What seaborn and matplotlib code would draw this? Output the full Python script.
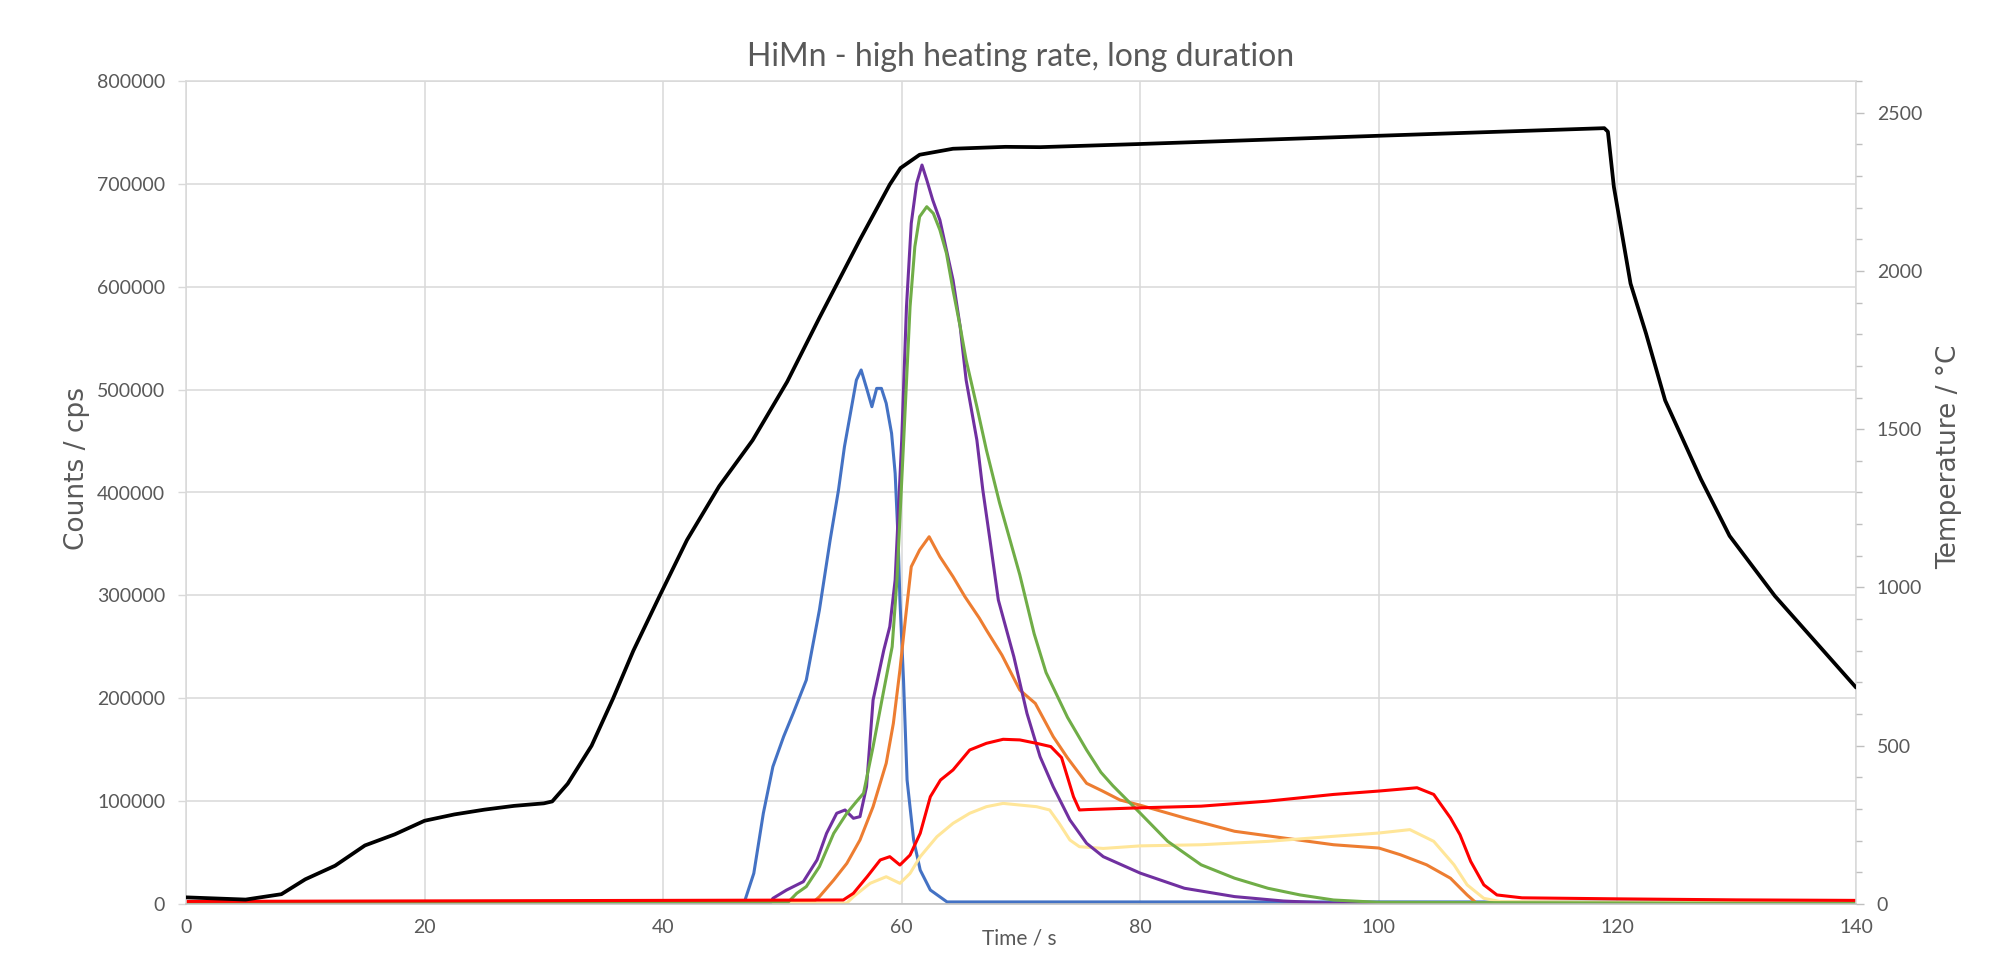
import numpy as np
import pandas as pd
import seaborn as sns
from matplotlib import pyplot as plt
from matplotlib.ticker import MultipleLocator, FuncFormatter

# Counts / cps series (time in s)
blue_t = [0, 46.8, 47.6, 48.4, 49.2, 50.1, 50.9, 52.0, 53.1, 54.0, 54.7, 55.2, 55.7, 56.2, 56.6, 57.1,
          57.5, 57.9, 58.3, 58.7, 59.15, 59.45, 59.7, 59.85, 60.15, 60.45, 61.0, 61.55, 62.4, 63.8, 140]
blue_c = [1500, 1500, 29800, 88200, 133500, 162700, 185300, 217700, 285800, 353800, 402400, 444600,
          476900, 509300, 519100, 499600, 483400, 501200, 501200, 486700, 457500, 418600, 353800,
          295500, 217700, 120500, 62200, 33000, 13600, 2000, 2000]

purple_t = [0, 49.0, 49.2, 50.35, 51.75, 52.9, 53.7, 54.55, 55.25, 55.95, 56.5, 57.05, 57.6, 58.5, 59.0,
            59.45, 60.0, 60.4, 60.8, 61.25, 61.7, 62.1, 62.6, 63.2, 63.75, 64.3, 64.9, 65.4, 66.3, 66.8,
            67.4, 68.1, 69.4, 70.5, 71.6, 72.7, 74.1, 75.5, 76.9, 80.0, 83.7, 87.9, 92.0, 96.2, 100, 140]
purple_c = [1000, 1000, 5500, 13600, 21700, 42800, 68700, 88200, 91400, 83300, 84900, 114000, 198300,
            246900, 269600, 315000, 451000, 580600, 661600, 700500, 718300, 703800, 684300, 664900,
            635700, 606600, 561200, 509300, 451000, 402400, 353800, 295500, 240400, 185300, 143200,
            114000, 81700, 59000, 46000, 30000, 15300, 7200, 2900, 700, 0, 0]

green_t = [0, 50.5, 51.2, 52.0, 53.1, 54.3, 55.4, 56.2, 56.8, 57.6, 58.5, 59.2, 59.6, 60.3, 60.7, 61.1,
           61.5, 62.1, 62.65, 63.2, 63.75, 64.3, 64.9, 65.4, 66.3, 67.1, 68.2, 69.9, 71.1, 72.1, 73.9,
           75.5, 76.7, 77.7, 80.0, 82.3, 85.1, 87.9, 90.7, 93.4, 96.2, 100, 140]
green_c = [1000, 2000, 10400, 16900, 36300, 68700, 88200, 99500, 107600, 152900, 208000, 250100,
           315000, 483400, 580600, 638900, 668100, 677800, 671300, 655200, 632500, 596800, 561200,
           528800, 483400, 441300, 390000, 320000, 262800, 225000, 181400, 149700, 128000, 115000,
           88200, 60900, 38100, 25100, 15300, 8800, 3900, 1600, 500]

orange_t = [0, 52.6, 53.1, 54.3, 55.4, 56.5, 57.6, 58.7, 59.3, 59.85, 60.3, 60.8, 61.5, 62.3, 63.2, 64.3,
            65.3, 66.5, 67.1, 68.4, 69.9, 71.2, 72.7, 73.9, 75.5, 76.8, 78.3, 80.0, 83.7, 87.9, 92.0,
            96.2, 100, 101.8, 104.0, 106.0, 107.4, 108.2, 140]
orange_c = [1000, 2000, 7100, 23300, 39500, 62200, 94600, 136800, 175600, 227500, 276100, 327900,
            344100, 357000, 337600, 318200, 298700, 278000, 266300, 242000, 208000, 195000, 162700,
            142000, 117300, 110000, 101100, 96000, 83700, 70700, 64200, 57600, 54400, 47900, 38100,
            25100, 8800, 700, 500]

yellow_t = [0, 55.4, 55.95, 57.35, 58.7, 59.85, 60.7, 61.55, 62.95, 64.3, 65.7, 67.1, 68.5, 69.9, 71.3,
            72.4, 73.2, 74.1, 74.9, 76.9, 80, 85.1, 90.7, 96.2, 100, 102.6, 104.6, 106.3, 107.4, 108.8,
            110.2, 140]
yellow_c = [500, 1000, 7100, 20100, 26500, 20100, 29800, 46000, 65400, 78400, 88200, 94600, 97800,
            96200, 94600, 91400, 78400, 62200, 55700, 54000, 56500, 57600, 60900, 65800, 69000, 72300,
            60900, 38100, 18600, 5500, 2300, 1000]

red_t = [0, 55.1, 55.95, 57.1, 58.2, 59.0, 59.85, 60.7, 61.55, 62.4, 63.25, 64.3, 65.7, 67.1, 68.5, 69.9,
         71.3, 72.5, 73.4, 74.4, 74.9, 75.6, 80, 85.1, 90.7, 96.2, 100, 103.2, 104.6, 106.0, 106.8, 107.7,
         108.8, 109.9, 112, 120, 130, 140]
red_c = [2500, 3900, 10400, 26500, 42800, 46000, 37900, 47600, 68700, 104300, 120500, 130300, 149700,
         156200, 160100, 159500, 156200, 153000, 142300, 104300, 91400, 91800, 93500, 95100, 100000,
         106500, 109800, 113000, 106500, 83700, 67400, 41400, 18600, 8800, 6000, 5000, 4000, 3500]

# Temperature / °C (right axis)
temp_t = [0, 5, 8, 10, 12.5, 15, 17.5, 20, 22.5, 25, 27.5, 30, 30.7, 32, 34, 35.8, 37.5, 39.7, 42, 44.7,
          47.5, 50.4, 53.1, 56.5, 59.0, 59.9, 61.5, 64.3, 68.7, 71.6, 80, 100, 118.9, 119.2, 119.7,
          121.1, 122.4, 124, 127, 129.4, 133.2, 136.4, 140]
temp_v = [21, 14, 31, 78, 121, 185, 220, 263, 283, 298, 310, 318, 324, 380, 500, 649, 800, 973, 1150,
          1320, 1465, 1650, 1852, 2099, 2273, 2325, 2367, 2386, 2392, 2391, 2401, 2427, 2451, 2440, 2266,
          1960, 1802, 1591, 1342, 1163, 973, 837, 684]

series = [
    (blue_t, blue_c, '#4472C4'),
    (orange_t, orange_c, '#ED7D31'),
    (yellow_t, yellow_c, '#FFE699'),
    (purple_t, purple_c, '#7030A0'),
    (green_t, green_c, '#70AD47'),
    (red_t, red_c, '#FF0000'),
]

sns.set_style('white')
plt.rcParams['font.family'] = ['Lato', 'DejaVu Sans']
text_col = '#595959'
grid_col = '#D9D9D9'

fig = plt.figure(figsize=(20.11, 9.55), dpi=100)
ax = fig.add_axes([186 / 2011, 51 / 955, 1670 / 2011, 823 / 955])

for t, c, col in series:
    sns.lineplot(x=t, y=c, ax=ax, color=col, linewidth=2.2, sort=False, estimator=None)

ax.set_xlim(0, 140)
ax.set_ylim(0, 800000)
ax.xaxis.set_major_locator(MultipleLocator(20))
ax.yaxis.set_major_locator(MultipleLocator(100000))
ax.yaxis.set_major_formatter(FuncFormatter(lambda v, p: f'{v:.0f}'))
ax.grid(True, color=grid_col, linewidth=1.1)
ax.set_axisbelow(True)
ax.tick_params(axis='both', which='major', length=6, width=1, color=grid_col,
               labelsize=14, labelcolor=text_col, direction='out')
ax.tick_params(axis='y', pad=9)
ax.tick_params(axis='x', pad=5)
for s in ax.spines.values():
    s.set_color(grid_col)
    s.set_linewidth(1.1)
ax.spines['bottom'].set_color('#BFBFBF')

ax.set_ylabel('Counts / cps', family='DejaVu Sans', fontsize=19, color=text_col)
ax.yaxis.set_label_coords(-0.0575, 0.5286)
ax.set_xlabel('Time / s', fontsize=15, color=text_col)
ax.xaxis.set_label_coords(0.4992, -0.0292)

ax2 = ax.twinx()
sns.lineplot(x=temp_t, y=temp_v, ax=ax2, color='black', linewidth=2.7, sort=False, estimator=None)
ax2.set_ylim(0, 2600)
ax2.yaxis.set_major_locator(MultipleLocator(500))
ax2.yaxis.set_minor_locator(MultipleLocator(100))
ax2.tick_params(axis='y', which='major', length=6, width=1, color='#BFBFBF',
                labelsize=14, labelcolor=text_col, pad=9)
ax2.tick_params(axis='y', which='minor', length=4, width=1, color='#BFBFBF')
for s in ax2.spines.values():
    s.set_visible(False)
ax2.set_ylabel('Temperature / °C', family='DejaVu Sans', fontsize=19, color=text_col)
ax2.yaxis.set_label_coords(1.0477, 0.543)

fig.text(1021 / 2011, (955 - 66) / 955, 'HiMn - high heating rate, long duration',
         ha='center', va='baseline', fontsize=23, color=text_col)

fig.savefig('out.png', dpi=100)
